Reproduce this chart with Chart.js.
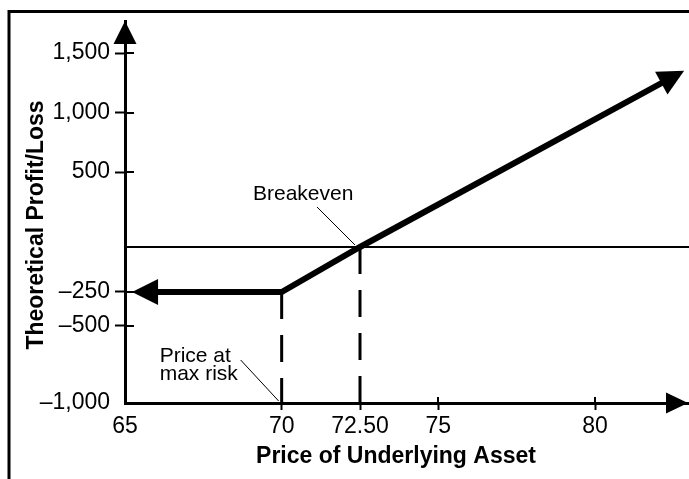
<!DOCTYPE html>
<html>
<head>
<meta charset="utf-8">
<script src="https://cdn.jsdelivr.net/npm/chart.js@4.4.1/dist/chart.umd.min.js"></script>
<style>
  html, body { margin: 0; padding: 0; background: #fff; }
  #wrap { width: 689px; height: 479px; position: relative; }
</style>
</head>
<body>
<div id="wrap"><canvas id="payoffChart"></canvas></div>
<script>
// chart values
var prices = [65.48, 70, 72.5, 82.62];
var profitLoss = [-250, -250, 0, 1320];
var maxRiskPrice = 70;
var breakevenPrice = 72.5;
var xTicks = [65, 70, 72.5, 75, 80];
var xTickLabels = ['65', '70', '72.50', '75', '80'];
var yTicks = [-1000, -500, -250, 500, 1000, 1500];
var xRange = [65, 83];
var yRange = [-1000, 1750];

// the printed y axis is not evenly spaced: value -> share of axis height
var yAxisStops = [[-1000, 0], [-500, 0.2016], [-250, 0.2906], [0, 0.4084],
                  [500, 0.6047], [1000, 0.7592], [1500, 0.9162], [1750, 1]];

var FONT = "'Liberation Sans', Arial, Helvetica, sans-serif";

class BrokenLinearScale extends Chart.LinearScale {
    toDecimal(v) {
        var s = yAxisStops;
        for (var i = 1; i < s.length; i++) {
            if (v <= s[i][0] || i === s.length - 1) {
                var a = s[i - 1], b = s[i];
                return a[1] + (v - a[0]) / (b[0] - a[0]) * (b[1] - a[1]);
            }
        }
    }
    getPixelForValue(v) {
        if (v === null || v === undefined) return NaN;
        return this.getPixelForDecimal(this.toDecimal(v));
    }
    getValueForPixel(p) {
        var d = this.getDecimalForPixel(p), s = yAxisStops;
        for (var i = 1; i < s.length; i++) {
            if (d <= s[i][1] || i === s.length - 1) {
                var a = s[i - 1], b = s[i];
                return a[0] + (d - a[1]) / (b[1] - a[1]) * (b[0] - a[0]);
            }
        }
    }
}
BrokenLinearScale.id = 'brokenLinear';
BrokenLinearScale.defaults = Chart.LinearScale.defaults;
Chart.register(BrokenLinearScale);

function pts(xs, ys) {
    return xs.map(function(x, i) { return { x: x, y: ys[i] }; });
}

function arrowHead(ctx, tipX, tipY, ux, uy, len, half) {
    var bx = tipX - ux * len, by = tipY - uy * len;
    ctx.beginPath();
    ctx.moveTo(tipX, tipY);
    ctx.lineTo(bx - uy * half, by + ux * half);
    ctx.lineTo(bx + uy * half, by - ux * half);
    ctx.closePath();
    ctx.fill();
}

var decorations = {
    id: 'decorations',
    beforeDraw: function(chart) {
        var ctx = chart.ctx;
        ctx.save();
        ctx.fillStyle = '#fff';
        ctx.fillRect(0, 0, chart.width, chart.height);
        // frame
        ctx.strokeStyle = '#000';
        ctx.lineWidth = 3;
        ctx.beginPath();
        ctx.moveTo(9, chart.height);
        ctx.lineTo(9, 11.5);
        ctx.lineTo(chart.width, 11.5);
        ctx.stroke();
        ctx.restore();
    },
    afterDraw: function(chart) {
        var ctx = chart.ctx, area = chart.chartArea;
        var xs = chart.scales.x, ys = chart.scales.y;
        ctx.save();
        ctx.fillStyle = '#000';
        ctx.strokeStyle = '#000';

        // axis arrows
        arrowHead(ctx, area.right - 1, ys.getPixelForValue(yRange[0]), 1, 0, 22, 10.5);
        arrowHead(ctx, xs.getPixelForValue(xRange[0]), area.top, 0, -1, 23, 11.5);

        // inner halves of the tick marks
        ctx.lineWidth = 2;
        ctx.beginPath();
        xTicks.slice(1).forEach(function(v) {
            var px = Math.round(xs.getPixelForValue(v));
            ctx.moveTo(px, area.bottom);
            ctx.lineTo(px, area.bottom - 6);
        });
        yTicks.slice(1).forEach(function(v) {
            var py = Math.round(ys.getPixelForValue(v));
            ctx.moveTo(area.left, py);
            ctx.lineTo(area.left + 9, py);
        });
        ctx.stroke();

        // payoff arrows at both ends
        var meta = chart.getDatasetMeta(0).data;
        [[0, 1], [meta.length - 1, meta.length - 2]].forEach(function(p) {
            var a = meta[p[0]], b = meta[p[1]];
            var dx = a.x - b.x, dy = a.y - b.y, l = Math.hypot(dx, dy);
            var ux = dx / l, uy = dy / l;
            arrowHead(ctx, a.x + ux * 8, a.y + uy * 8, ux, uy, 26, 13);
        });

        // annotations
        ctx.font = '21px ' + FONT;
        ctx.textBaseline = 'alphabetic';
        ctx.textAlign = 'left';
        var bx = xs.getPixelForValue(breakevenPrice), by = ys.getPixelForValue(0);
        ctx.fillText('Breakeven', bx - 107, by - 47);
        var mx = xs.getPixelForValue(maxRiskPrice), my = ys.getPixelForValue(yRange[0]);
        ctx.fillText('Price at', mx - 122, my - 41);
        ctx.fillText('max risk', mx - 122, my - 23);
        ctx.lineWidth = 1;
        ctx.beginPath();
        ctx.moveTo(bx - 43, by - 40);
        ctx.lineTo(bx - 5, by - 2);
        ctx.moveTo(mx - 41, my - 43);
        ctx.lineTo(mx - 3, my - 2);
        ctx.stroke();

        // axis titles
        ctx.font = 'bold 23px ' + FONT;
        ctx.textAlign = 'center';
        ctx.fillText('Price of Underlying Asset', 396, 463);
        ctx.translate(43, 225);
        ctx.rotate(-Math.PI / 2);
        ctx.fillText('Theoretical Profit/Loss', 0, 0);
        ctx.restore();
    }
};

var ctxEl = document.getElementById('payoffChart').getContext('2d');
var payoffChart = new Chart(ctxEl, {
    type: 'line',
    data: {
        datasets: [{
            data: pts(prices, profitLoss),
            borderColor: '#000',
            borderWidth: 6,
            pointRadius: 0,
            borderCapStyle: 'butt'
        }, {
            data: pts([xRange[0], xRange[1]], [0, 0]),
            borderColor: '#000',
            borderWidth: 2,
            pointRadius: 0
        }, {
            data: pts([breakevenPrice, breakevenPrice], [0, yRange[0]]),
            borderColor: '#000',
            borderWidth: 3,
            borderDash: [27, 16],
            pointRadius: 0
        }, {
            data: pts([maxRiskPrice, maxRiskPrice], [-250, yRange[0]]),
            borderColor: '#000',
            borderWidth: 3,
            borderDash: [27, 16],
            pointRadius: 0
        }]
    },
    options: {
        responsive: true,
        maintainAspectRatio: false,
        animation: false,
        devicePixelRatio: 1,
        layout: { padding: { top: 21, right: 0, bottom: 0, left: 0 } },
        plugins: {
            legend: { display: false },
            tooltip: { enabled: false }
        },
        scales: {
            x: {
                type: 'linear',
                min: xRange[0],
                max: xRange[1],
                afterBuildTicks: function(axis) {
                    axis.ticks = xTicks.map(function(v) { return { value: v }; });
                },
                afterFit: function(axis) { axis.height = 76; },
                ticks: {
                    autoSkip: false,
                    maxRotation: 0,
                    padding: 3,
                    color: '#000',
                    font: { family: FONT, size: 23 },
                    callback: function(v) { return xTickLabels[xTicks.indexOf(v)]; }
                },
                grid: {
                    drawOnChartArea: false,
                    tickLength: 7,
                    tickWidth: 2,
                    tickColor: function(c) { return c.tick && c.tick.value === xRange[0] ? 'rgba(0,0,0,0)' : '#000'; }
                },
                border: { display: true, color: '#000', width: 3 }
            },
            y: {
                type: 'brokenLinear',
                min: yRange[0],
                max: yRange[1],
                afterBuildTicks: function(axis) {
                    axis.ticks = yTicks.map(function(v) { return { value: v }; });
                },
                afterFit: function(axis) { axis.width = 125; },
                ticks: {
                    autoSkip: false,
                    padding: 5,
                    color: '#000',
                    font: { family: FONT, size: 23 },
                    callback: function(v) {
                        return v.toLocaleString('en-US').replace('-', '\u2013');
                    }
                },
                grid: {
                    drawOnChartArea: false,
                    tickLength: 10,
                    tickWidth: 2,
                    tickColor: function(c) { return c.tick && c.tick.value === yRange[0] ? 'rgba(0,0,0,0)' : '#000'; }
                },
                border: { display: true, color: '#000', width: 3 }
            }
        }
    },
    plugins: [decorations]
});
</script>
</body>
</html>
